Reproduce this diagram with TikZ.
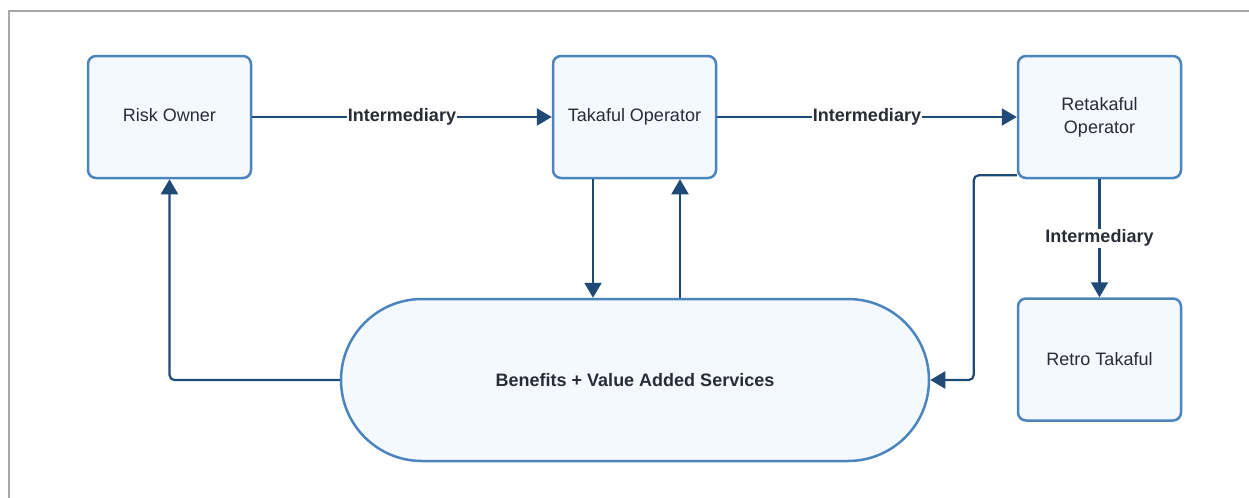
\documentclass[tikz,border=0pt]{standalone}
\usepackage{fontspec}
\setmainfont{Liberation Sans}
\usetikzlibrary{arrows.meta}
\definecolor{boxline}{RGB}{76,132,190}
\definecolor{boxfill}{RGB}{244,249,255}
\definecolor{flow}{RGB}{31,74,118}
\definecolor{ink}{RGB}{40,44,52}
\definecolor{frame}{RGB}{168,168,168}
\begin{document}
\begin{tikzpicture}[x=0.5pt,y=-0.5pt,
  font=\fontsize{9}{11.5}\selectfont,
  party/.style={draw=boxline,fill=boxfill,line width=1.25pt,rounded corners=4pt,
    minimum width=81.5pt,minimum height=61pt,align=center,text=ink,inner sep=2pt},
  flowline/.style={draw=flow,line width=1.1pt,-{Triangle[width=8.5pt,length=7.5pt]}},
  tag/.style={fill=white,inner sep=0.6pt,text=ink,font=\fontsize{9}{11}\selectfont\bfseries}]

\useasboundingbox (0,0) rectangle (1249,498);
\draw[frame,line width=1.1pt] (9,498) -- (9,11) -- (1249,11);

\node[party] (RO) at (169.5,117) {\raisebox{2pt}{Risk Owner}};
\node[party] (TO) at (634.5,117) {\raisebox{2pt}{Takaful Operator}};
\node[party] (RT) at (1099.5,117) {Retakaful\\Operator};
\node[party] (RR) at (1099.5,359.5) {\raisebox{1pt}{Retro Takaful}};
\node[draw=boxline,fill=boxfill,line width=1.25pt,rounded corners=40.5pt,
  minimum width=294pt,minimum height=81pt,text=ink,font=\fontsize{9}{11}\selectfont\bfseries]
  (B) at (635,380) {Benefits + Value Added Services};

\draw[flowline] (RO) -- node[tag] {Intermediary} (TO);
\draw[flowline] (TO) -- node[tag] {Intermediary} (RT);
\draw[flowline] (RT) -- node[tag] {Intermediary} (RR);

\draw[flowline] ([xshift=-20.75pt]TO.south) -- ([xshift=-20.75pt]TO.south |- B.north);
\draw[flowline] ([xshift=22.75pt]TO.south |- B.north) -- ([xshift=22.75pt]TO.south);
\draw[flowline,rounded corners=2.5pt] (B.west) -| (RO.south);
\draw[flowline,rounded corners=2.5pt] ([yshift=2pt]RT.south west) -- ++(-43,0) |- (B.east);

\end{tikzpicture}
\end{document}
